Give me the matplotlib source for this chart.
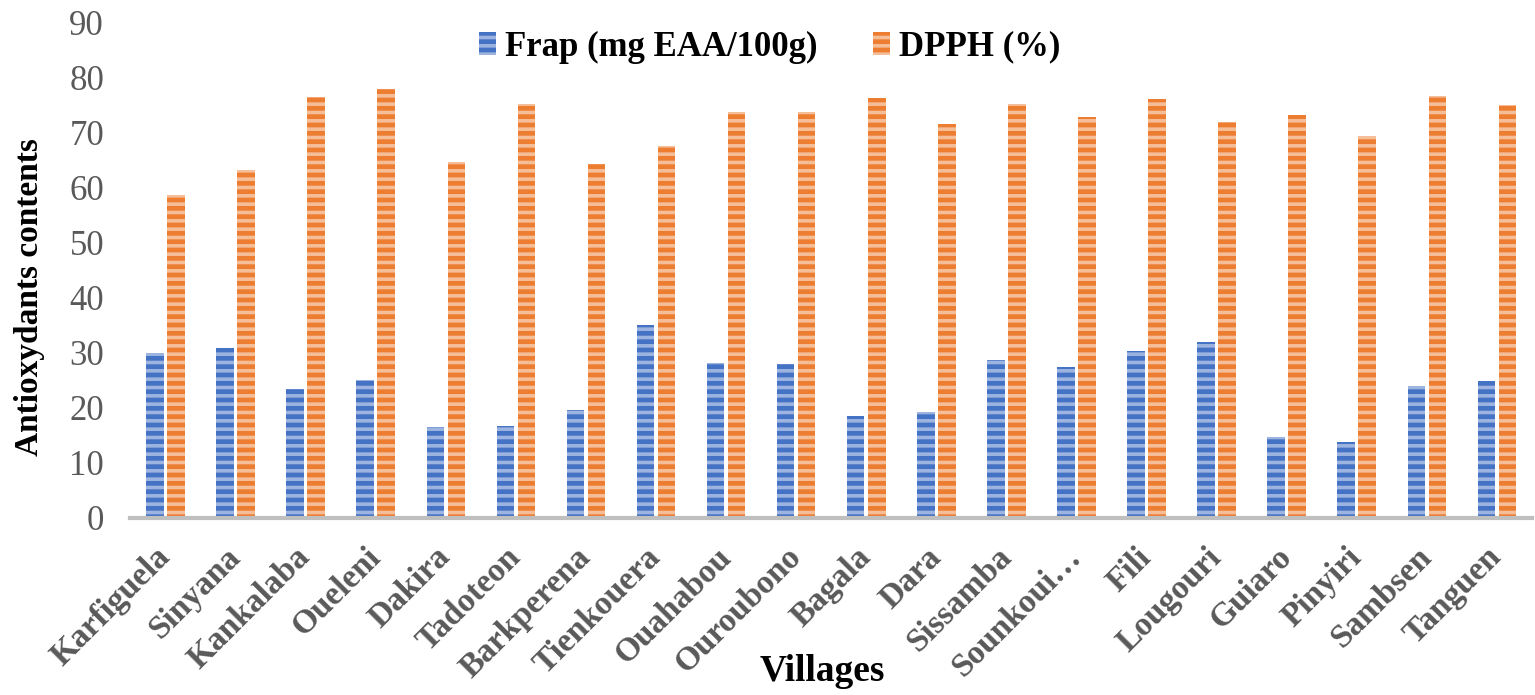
import matplotlib

matplotlib.use("Agg")
import matplotlib.pyplot as plt
import numpy as np

villages = ["Karfiguela", "Sinyana", "Kankalaba", "Oueleni", "Dakira",
            "Tadoteon", "Barkperena", "Tienkouera", "Ouahabou", "Ouroubono",
            "Bagala", "Dara", "Sissamba", "Sounkoui…", "Fili", "Lougouri",
            "Guiaro", "Pinyiri", "Sambsen", "Tanguen"]
frap = [30.0, 30.9, 23.4, 25.0, 16.5, 16.6, 19.5, 35.1, 28.2, 28.0,
        18.5, 19.3, 28.6, 27.4, 30.3, 31.9, 14.7, 13.7, 24.0, 24.9]
dpph = [58.6, 63.2, 76.5, 77.8, 64.7, 75.2, 64.3, 67.6, 73.7, 73.7,
        76.3, 71.5, 75.2, 72.8, 76.1, 71.9, 73.1, 69.4, 76.6, 75.0]
yticks = list(range(0, 91, 10))

plt.rcParams["font.family"] = ["Liberation Serif", "DejaVu Serif"]
plt.rcParams["hatch.linewidth"] = 2.6

fig = plt.figure(figsize=(15.35, 6.95), dpi=100)
ax = fig.add_axes([0.085, 0.255, 0.913, 0.713])

x = np.arange(len(villages))
w = 0.25
ax.bar(x - 0.15, frap, w, color="#4472C4", edgecolor="#9DB4E0",
       linewidth=0, hatch="--", label="Frap (mg EAA/100g)")
ax.bar(x + 0.15, dpph, w, color="#ED7D31", edgecolor="#F6BE98",
       linewidth=0, hatch="--", label="DPPH (%)")

ax.set_xlim(-0.5, len(villages) - 0.5)
ax.set_ylim(0, 90)
ax.set_yticks(yticks)
ax.tick_params(axis="y", length=0, labelsize=25, labelcolor="#595959", pad=19)
ax.tick_params(axis="x", length=0, pad=25)
ax.set_xticks(x)
ax.set_xticklabels(villages, rotation=45, ha="right", va="center",
                   rotation_mode="anchor", fontsize=24, fontweight="bold",
                   color="#595959")

for s in ["top", "right", "left"]:
    ax.spines[s].set_visible(False)
ax.spines["bottom"].set_color("#BFBFBF")
ax.spines["bottom"].set_linewidth(3)

ax.set_ylabel("Antioxydants contents", fontsize=24, fontweight="bold")
ax.yaxis.set_label_coords(-0.061, 0.445)
ax.set_xlabel("Villages", fontsize=27, fontweight="bold")
ax.xaxis.set_label_coords(0.494, -0.275)

ax.legend(loc="upper center", bbox_to_anchor=(0.456, 1.046), ncol=2,
          frameon=False, prop={"weight": "bold", "size": 25},
          handlelength=0.5, handleheight=0.6, handletextpad=0.25,
          columnspacing=1.6)

fig.savefig("out.png", dpi=100)
